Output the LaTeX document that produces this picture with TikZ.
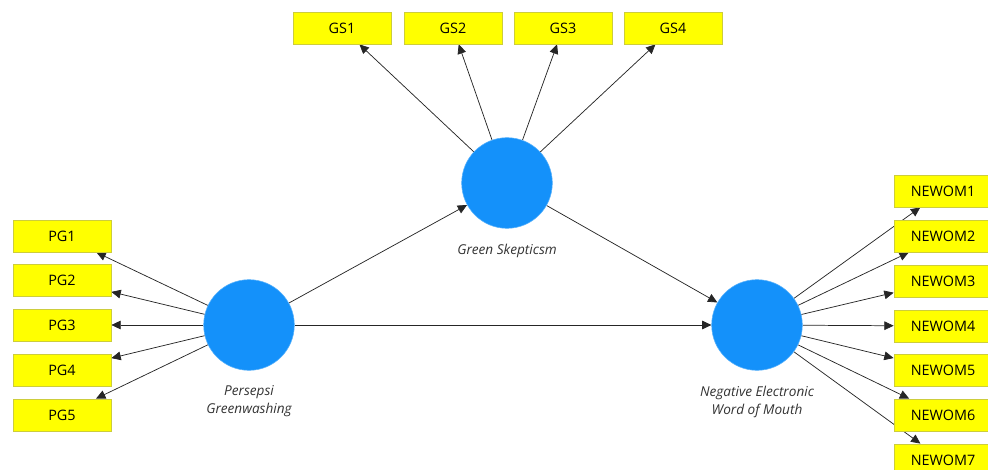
\documentclass[tikz,border=0pt]{standalone}
\usepackage{fontspec}
\setmainfont{Open Sans}
\usetikzlibrary{arrows.meta,backgrounds}
\definecolor{lvblue}{RGB}{20,145,250}
\definecolor{indyellow}{RGB}{255,255,0}
\definecolor{indborder}{RGB}{205,205,60}

\begin{document}
\begin{tikzpicture}[x=0.75pt,y=-0.75pt,
  latent/.style={circle,fill=lvblue,draw=lvblue!70,line width=0.4pt,minimum size=68pt,inner sep=0pt},
  indicator/.style={rectangle,fill=indyellow,draw=indborder,line width=0.6pt,minimum width=73.5pt,minimum height=24pt,inner sep=0pt,font=\fontsize{10.8}{12}\selectfont},
  lvname/.style={align=center,text=black!80,font=\itshape\fontsize{10.2}{14}\selectfont},
  load/.style={-{Triangle[length=7pt,width=6.5pt]},line width=0.55pt,draw=black!85}]
  \useasboundingbox (0,0) rectangle (988,470);
  \clip (0,0) rectangle (988,470);

  % latent variables
  \node[latent] (GS) at (507,183) {};
  \node[latent] (PG) at (249,325) {};
  \node[latent] (NEWOM) at (757,325) {};
  \node[lvname] (GSname) at (507,251) {Green Skepticsm};
  \node[lvname] (PGname) at (249,401) {Persepsi\\Greenwashing};
  \node[lvname] (NEWOMname) at (757,402) {Negative Electronic\\Word of Mouth};

  % indicators
  \node[indicator] (GS1) at (342,28) {GS1};
  \node[indicator] (GS2) at (453,28) {GS2};
  \node[indicator] (GS3) at (563,28) {GS3};
  \node[indicator] (GS4) at (673,28) {GS4};
  \node[indicator] (PG1) at (62,236) {PG1};
  \node[indicator] (PG2) at (62,280) {PG2};
  \node[indicator] (PG3) at (62,325) {PG3};
  \node[indicator] (PG4) at (62,370) {PG4};
  \node[indicator] (PG5) at (62,415) {PG5};
  \node[indicator] (NEWOM1) at (943,191) {NEWOM1};
  \node[indicator] (NEWOM2) at (943,236) {NEWOM2};
  \node[indicator] (NEWOM3) at (943,281) {NEWOM3};
  \node[indicator] (NEWOM4) at (943,326) {NEWOM4};
  \node[indicator] (NEWOM5) at (943,370) {NEWOM5};
  \node[indicator] (NEWOM6) at (943,415) {NEWOM6};
  \node[indicator] (NEWOM7) at (943,460) {NEWOM7};

  \begin{scope}[on background layer]
    % structural paths
    \draw[load] (PG) -- (GS);
    \draw[load] (PG) -- (NEWOM);
    \draw[load] (GS) -- (NEWOM);
    % loadings
    \draw[load] (GS) -- (GS1);
    \draw[load] (GS) -- (GS2);
    \draw[load] (GS) -- (GS3);
    \draw[load] (GS) -- (GS4);
    \draw[load] (PG) -- (PG1);
    \draw[load] (PG) -- (PG2);
    \draw[load] (PG) -- (PG3);
    \draw[load] (PG) -- (PG4);
    \draw[load] (PG) -- (PG5);
    \draw[load] (NEWOM) -- (NEWOM1);
    \draw[load] (NEWOM) -- (NEWOM2);
    \draw[load] (NEWOM) -- (NEWOM3);
    \draw[load] (NEWOM) -- (NEWOM4);
    \draw[load] (NEWOM) -- (NEWOM5);
    \draw[load] (NEWOM) -- (NEWOM6);
    \draw[load] (NEWOM) -- (NEWOM7);
  \end{scope}
\end{tikzpicture}
\end{document}
